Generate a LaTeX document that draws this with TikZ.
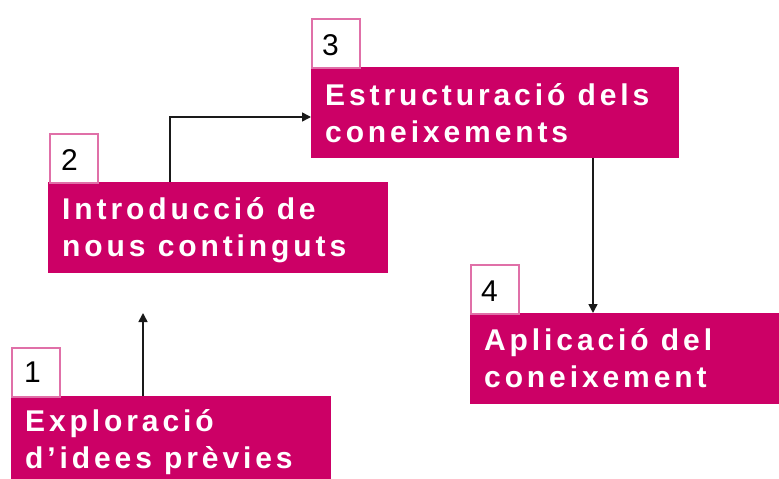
\documentclass[tikz,border=0pt]{standalone}
\usepackage{fontspec}
\setmainfont{Liberation Sans}
\newfontfamily\boxfont{Liberation Sans Bold}[LetterSpace=13]
\usetikzlibrary{arrows.meta}
\definecolor{boxfill}{HTML}{CC0066}
\definecolor{numframe}{HTML}{E070A8}
\definecolor{linecol}{HTML}{1A1A1A}
\tikzset{
  mainbox/.style={anchor=north west, fill=boxfill, draw=none, inner sep=0pt},
  numbox/.style={anchor=north west, fill=white, draw=numframe, line width=1.5pt, inner sep=0pt,
    minimum width=48pt, minimum height=49pt},
  boxtext/.style={anchor=base west, inner sep=0pt, text=white, align=left,
    font=\boxfont\fontsize{30}{37}\selectfont},
  numtext/.style={anchor=base west, inner sep=0pt, text=black,
    font=\fontsize{30}{36}\selectfont},
  arr/.style={draw=linecol, line width=1.6pt, -{Triangle[length=9pt,width=9pt]}}
}
\begin{document}
\begin{tikzpicture}[x=1pt,y=-1pt]
\useasboundingbox (0,0) rectangle (779,479);
% boxes
\node[mainbox, minimum width=320pt, minimum height=83pt] (b1) at (11,396) {};
\node[mainbox, minimum width=340pt, minimum height=91pt] (b2) at (48,182) {};
\node[mainbox, minimum width=368pt, minimum height=91pt] (b3) at (311,67) {};
\node[mainbox, minimum width=309pt, minimum height=91pt] (b4) at (470,313) {};
% number boxes
\node[numbox] (n1) at (11,347) {};
\node[numbox] (n2) at (49,133) {};
\node[numbox] (n3) at (311,18) {};
\node[numbox] (n4) at (470,264) {};
\node[numtext] (l1) at (24,382) {1};
\node[numtext] (l2) at (61,170) {2};
\node[numtext] (l3) at (322,55) {3};
\node[numtext] (l4) at (481,301) {4};
% texts (anchor base = baseline of last line)
\node[boxtext] (t1) at (25,468) {Exploració\\d’idees prèvies};
\node[boxtext] (t2) at (62,256) {Introducció de\\nous continguts};
\node[boxtext] (t3) at (325,142) {Estructuració dels\\coneixements};
\node[boxtext] (t4) at (484,387) {Aplicació del\\coneixement};
% connectors
\coordinate (c1) at (143,313);
\coordinate (c2) at (170,117);
\coordinate (c3) at (593,0);
\draw[arr] (c1 |- b1.north) -- (c1);
\draw[arr] (c2 |- b2.north) -- (c2) -- (c2 -| b3.west);
\draw[arr] (c3 |- b3.south) -- (c3 |- b4.north);
\end{tikzpicture}
\end{document}
